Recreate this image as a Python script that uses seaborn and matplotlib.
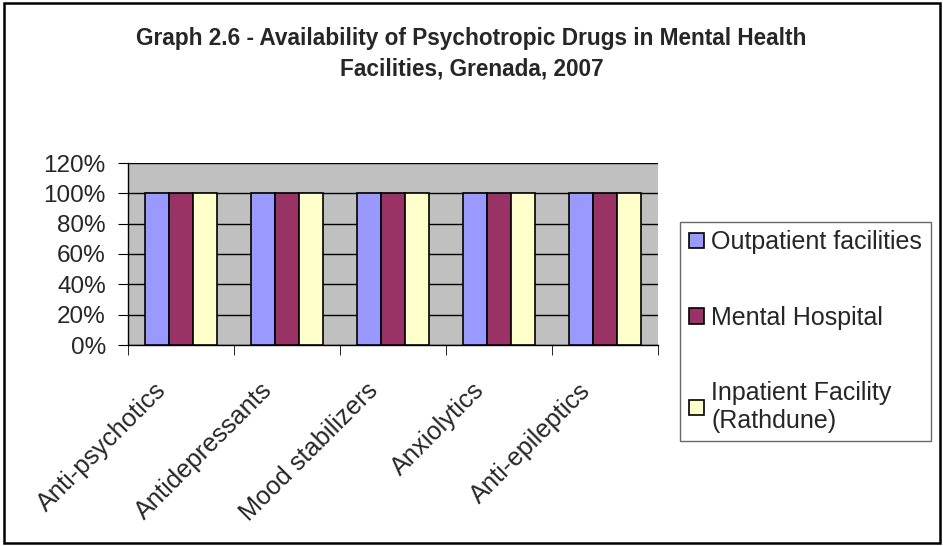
import pandas as pd
import matplotlib.pyplot as plt
import matplotlib.transforms as mtransforms
import seaborn as sns
from matplotlib.patches import Rectangle
from matplotlib.ticker import PercentFormatter

categories = ["Anti-psychotics", "Antidepressants", "Mood stabilizers", "Anxiolytics", "Anti-epileptics"]
facilities = ["Outpatient facilities", "Mental Hospital", "Inpatient Facility\n(Rathdune)"]
outpatient = [100, 100, 100, 100, 100]
mental_hospital = [100, 100, 100, 100, 100]
inpatient = [100, 100, 100, 100, 100]
colors = ["#9999FF", "#993366", "#FFFFCC"]

rows = []
for fac, vals in zip(facilities, [outpatient, mental_hospital, inpatient]):
    for cat, v in zip(categories, vals):
        rows.append({"Drug": cat, "Facility": fac, "Value": v})
df = pd.DataFrame(rows)

sns.set_style("white")
plt.rcParams["font.family"] = ["Liberation Sans", "DejaVu Sans"]

fs = 17.5
fig = plt.figure(figsize=(9.43, 5.46), dpi=100)
ax = fig.add_axes([128 / 943, 1 - 345 / 546, 530 / 943, 182 / 546])

sns.barplot(data=df, x="Drug", y="Value", hue="Facility", palette=colors,
            width=0.68, edgecolor="black", linewidth=1.2, saturation=1, ax=ax, zorder=3)

ax.set_facecolor("#C0C0C0")
ax.set_ylim(0, 120)
ax.set_yticks(range(0, 121, 20))
ax.yaxis.set_major_formatter(PercentFormatter(decimals=0))
ax.grid(axis="y", color="black", linewidth=1, zorder=0)
ax.set_axisbelow(True)
for s in ["top", "right"]:
    ax.spines[s].set_visible(False)
for s in ["left", "bottom"]:
    ax.spines[s].set_color("black")
    ax.spines[s].set_linewidth(1)
ax.set_xlabel("")
ax.set_ylabel("")
ax.set_xticks([i + 0.5 for i in range(-1, len(categories))], minor=True)
ax.tick_params(axis="x", which="major", length=0, pad=24)
ax.tick_params(axis="x", which="minor", length=7, color="black", direction="out", bottom=True)
ax.tick_params(axis="y", length=7, color="black", direction="out", left=True, labelsize=fs, pad=9)
ax.set_xticks(range(len(categories)))
ax.set_xticklabels(categories, rotation=45, ha="right", rotation_mode="anchor", fontsize=18.3)
ax.set_xlim(-0.5, len(categories) - 0.5)
shift = mtransforms.ScaledTranslation(-27 / 100, 0, fig.dpi_scale_trans)
for lbl in ax.get_xticklabels():
    lbl.set_transform(lbl.get_transform() + shift)

handles, labels = ax.get_legend_handles_labels()
ax.legend(handles, labels, loc="center left", bbox_to_anchor=(680 / 943, 1 - 331.5 / 546),
          bbox_transform=fig.transFigure, fontsize=18, frameon=True, fancybox=False,
          edgecolor="#444444", handlelength=0.6, handleheight=0.6, handletextpad=0.3,
          labelspacing=2.05, borderpad=0.35, borderaxespad=0)

fig.text(0.5, 1 - 54 / 546, "Graph 2.6 - Availability of Psychotropic Drugs in Mental Health\nFacilities, Grenada, 2007",
         ha="center", va="center", fontsize=16.3, fontweight="bold", linespacing=1.4)

fig.patches.append(Rectangle((4 / 943, 3 / 546), 936 / 943, 540 / 546, transform=fig.transFigure,
                             fill=False, edgecolor="black", linewidth=1.8))

fig.savefig("out.png", dpi=100)
